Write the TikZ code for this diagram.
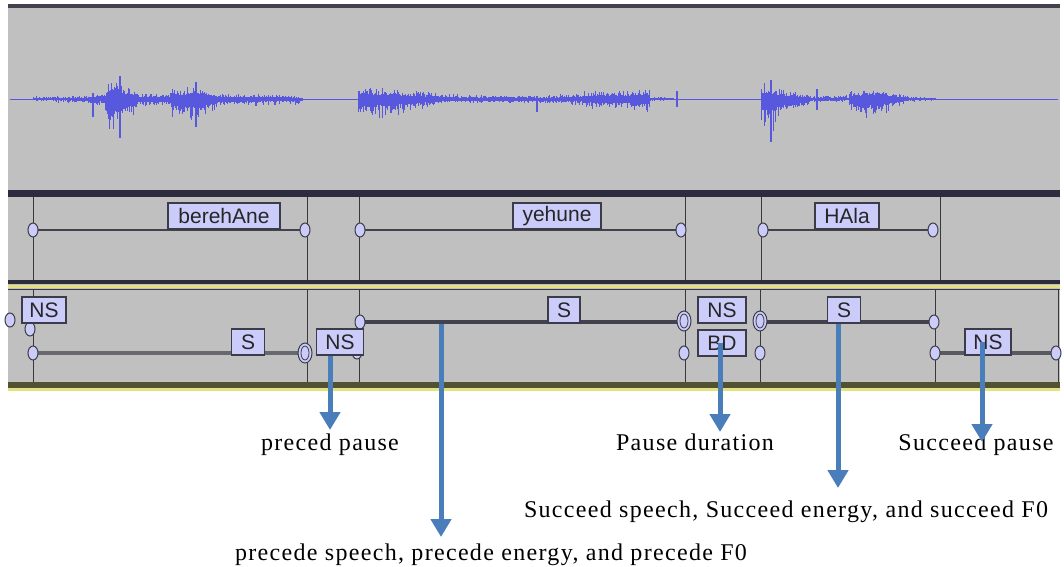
\documentclass[tikz,border=0pt]{standalone}
\usepackage{fontspec}
\setmainfont{Liberation Serif}
\setsansfont{Liberation Sans}
\usetikzlibrary{arrows.meta}
\definecolor{panel}{RGB}{192,192,192}
\definecolor{darkbar}{RGB}{44,44,62}
\definecolor{wave}{RGB}{88,88,222}
\definecolor{boxfill}{RGB}{204,204,250}
\definecolor{boxline}{RGB}{60,60,72}
\definecolor{tierline}{RGB}{66,66,76}
\definecolor{upline}{RGB}{66,66,78}
\definecolor{lowline}{RGB}{104,104,112}
\definecolor{vline}{RGB}{56,56,60}
\definecolor{arrowblue}{RGB}{74,126,187}
\definecolor{sepyellow}{RGB}{226,226,130}
\definecolor{olive}{RGB}{82,82,50}
\tikzset{
  lab/.style={draw=boxline, fill=boxfill, line width=1.2pt, inner sep=0pt,
    minimum height=26pt, text=black!85, font=\sffamily\fontsize{21}{21}\selectfont},
  caption/.style={anchor=base, inner sep=0pt, text=black,
    font=\fontsize{24}{24}\selectfont\addfontfeature{LetterSpace=5.5}},
  arr/.style={draw=arrowblue, line width=5pt, -{Triangle[width=20pt,length=18pt]}},
  vl/.style={draw=vline, line width=1pt},
  hdl/.pic={\filldraw[fill=boxfill, draw=boxline, line width=1pt] (0,0) ellipse [x radius=5pt, y radius=7pt];},
  hdlD/.pic={\filldraw[fill=boxfill, draw=boxline, line width=1pt] (0,0) ellipse [x radius=7pt, y radius=10pt];
             \draw[boxline, line width=0.8pt] (0,0) ellipse [x radius=4pt, y radius=7pt];}
}
\begin{document}
\begin{tikzpicture}[x=1pt,y=-1pt]
\useasboundingbox (0,0) rectangle (1064,566);
% panel
\fill[panel] (8,4) rectangle (1060,391);
\fill[tierline] (8,4) rectangle (1060,8);
% waveform
\draw[wave, line width=1pt] (10,99) -- (1058,99);
\pgfmathsetseed{11}
\foreach \a/\b/\ua/\ub/\da/\db in {
  33/88/3/4/3/5, 88/100/5/6/8/14, 100/106/5/10/6/12, 106/120/20/22/30/38,
  120/138/20/8/35/15, 138/172/6/8/8/10, 172/200/12/16/20/28, 200/222/14/6/25/8,
  222/303/6/4/8/6, 358/370/14/16/18/24, 370/441/14/6/22/8, 441/540/5/4/5/5,
  540/583/4/6/5/8, 583/650/8/12/10/14, 650/674/3/2/3/2, 761/775/18/18/30/40,
  775/810/14/5/25/8, 810/849/4/4/4/4, 849/875/10/12/14/23, 875/908/12/4/20/6,
  908/936/3/2/3/2}{
  \pgfmathsetmacro\sec{\a+0.8}
  \foreach \x in {\a,\sec,...,\b}{
    \pgfmathsetmacro\t{(\x-\a)/(\b-\a)}
    \pgfmathsetmacro\ru{(\ua+(\ub-\ua)*\t)*(0.3+0.7*rnd*rnd)}
    \pgfmathsetmacro\rd{(\da+(\db-\da)*\t)*(0.3+0.7*rnd*rnd)}
    \draw[wave, line width=0.8pt] (\x,{99-\ru}) -- (\x,{99+\rd});
  }
}
\draw[wave, line width=1.2pt] (93,93) -- (93,117) (120,76) -- (120,138) (537,96) -- (537,112)
  (677,91) -- (677,107) (771,80) -- (771,142) (817,89) -- (817,110) (196,82) -- (196,127);
% separators
\fill[darkbar] (8,190) rectangle (1060,197);
\fill[darkbar] (8,280) rectangle (1060,284);
\fill[sepyellow] (8,284.5) rectangle (1060,287.5);
\draw[vline] (8,289.5) -- (1060,289.5);
\fill[olive] (8,382) rectangle (1060,388);
\fill[sepyellow] (8,388) rectangle (1060,391);
% tier 1 verticals
\foreach \x in {33,307,359,685,761,940} \draw[vl] (\x,197) -- (\x,280);
% tier 2 verticals
\foreach \x in {33,307,359,685,760,935,1058} \draw[vl] (\x,290) -- (\x,382);
% tier 1 segments
\draw[tierline, line width=2.2pt] (33,230) -- (305,230) (360,230) -- (681,230) (763,230) -- (933,230);
\foreach \x in {33,305,360,681,763,933} \pic at (\x,230) {hdl};
% tier 2 lines
\draw[upline, line width=4.5pt] (362,322) -- (681,322) (760,322) -- (934,322);
\draw[lowline, line width=4.5pt] (33,353) -- (305,353);
\draw[lowline!110, line width=4pt] (935,353) -- (1055,353);
\foreach \x/\y in {10/320,30/329,33/353,360/322,357/352,684/353,760/353,934/322,935/353,1056/353} \pic at (\x,\y) {hdl};
\foreach \x/\y in {305/353,684/321,760/321} \pic at (\x,\y) {hdlD};
% labels
\node[lab, minimum width=112pt] (berehAne) at (224,216) {berehAne};
\node[lab, minimum width=88pt] (yehune) at (557,216) {yehune};
\node[lab, minimum width=64pt] (HAla) at (847,216) {HAla};
\node[lab, minimum width=44pt] (NSa) at (44,310) {NS};
\node[lab, minimum width=33pt] (Sa) at (248,342) {S};
\node[lab, minimum width=47pt] (NSb) at (340,342) {NS};
\node[lab, minimum width=32pt] (Sb) at (564,310) {S};
\node[lab, minimum width=48pt] (NSc) at (722,310) {NS};
\node[lab, minimum width=48pt] (BD) at (722,343) {BD};
\node[lab, minimum width=33pt] (Sc) at (844,310) {S};
\node[lab, minimum width=46pt] (NSd) at (988,342) {NS};
% captions
\node[caption] (t1) at (330,450) {preced pause};
\node[caption] (t2) at (491,560) {precede speech, precede energy, and precede F0};
\node[caption] (t3) at (695,450) {Pause duration};
\node[caption] (t4) at (786,517) {Succeed speech, Succeed energy, and succeed F0};
\node[caption] (t5) at (976,450) {Succeed pause};
% arrows
\coordinate (e1) at (330,430);
\coordinate (e2) at (441,537);
\coordinate (e3) at (720,432);
\coordinate (e4) at (838,488);
\coordinate (e5) at (982,442);
\draw[arr] (NSb.south -| e1) -- (e1);
\draw[arr] (Sb.south -| e2) -- (e2);
\draw[arr] (BD.center -| e3) -- (e3);
\draw[arr] (Sc.south -| e4) -- (e4);
\draw[arr] (NSd.center -| e5) -- (e5);
\end{tikzpicture}
\end{document}
